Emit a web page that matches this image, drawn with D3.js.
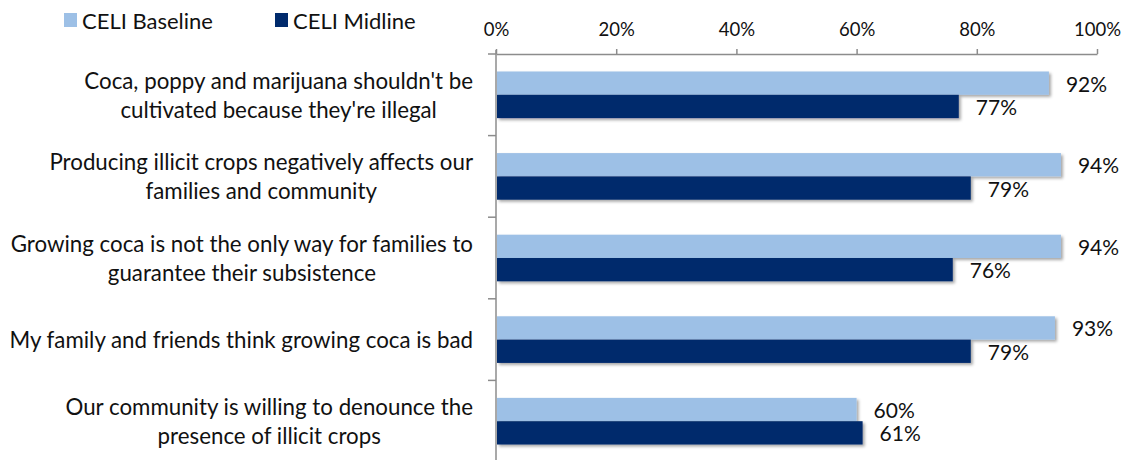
<!DOCTYPE html>
<html>
<head>
<meta charset="utf-8">
<script src="https://cdn.jsdelivr.net/npm/d3@7"></script>
<style>
  html, body { margin: 0; padding: 0; background: #fff; }
  svg { display: block; }
  text { font-family: Lato, "Open Sans", sans-serif; fill: #111; }
</style>
</head>
<body>
<svg id="chart" width="1124" height="460"></svg>
<script>
// Survey statements, each split into its display lines
const categories = [
  ["Coca, poppy and marijuana shouldn't be", "cultivated because they're illegal"],
  ["Producing illicit crops negatively affects our", "families and community"],
  ["Growing coca is not the only way for families to", "guarantee their subsistence"],
  ["My family and friends think growing coca is bad"],
  ["Our community is willing to denounce the", "presence of illicit crops"]
];
const seriesNames = ["CELI Baseline", "CELI Midline"];
const baseline = [0.92, 0.94, 0.94, 0.93, 0.60];
const midline  = [0.77, 0.79, 0.76, 0.79, 0.61];
const xTicks = [0, 0.2, 0.4, 0.6, 0.8, 1.0];
const colors = ["#9dc0e6", "#002a6c"];

const svg = d3.select("#chart");
const catKeys = categories.map(d => d.join(" "));
const rows = catKeys.map((k, i) => ({ key: k, lines: categories[i], values: [baseline[i], midline[i]] }));

const x = d3.scaleLinear().domain([0, 1]).range([496, 1097]);
const y0 = d3.scaleBand().domain(catKeys).range([54, 462]).padding(0);
const y1 = d3.scaleBand().domain(seriesNames).range([0, y0.bandwidth()]).paddingInner(0).paddingOuter(0.75);

// soft drop shadow under the bars
const defs = svg.append("defs");
const f = defs.append("filter").attr("id", "shadow").attr("x", "-5%").attr("y", "-30%").attr("width", "115%").attr("height", "180%");
f.append("feDropShadow").attr("dx", 2).attr("dy", 2).attr("stdDeviation", 1.6)
  .attr("flood-color", "#000").attr("flood-opacity", 0.35);

// bars
const groups = svg.append("g").selectAll("g").data(rows).join("g")
  .attr("transform", d => `translate(0,${y0(d.key)})`);

groups.selectAll("rect").data(d => d.values.map((v, j) => ({ v, s: seriesNames[j], j })))
  .join("rect")
  .attr("x", x(0) + 1)
  .attr("y", d => y1(d.s))
  .attr("width", d => x(d.v) - x(0) - 1)
  .attr("height", y1.bandwidth())
  .attr("fill", d => colors[d.j])
  .attr("filter", "url(#shadow)");

// value labels
groups.selectAll("text.val").data(d => d.values.map((v, j) => ({ v, s: seriesNames[j] })))
  .join("text").attr("class", "val")
  .attr("x", d => x(d.v) + 17)
  .attr("y", d => y1(d.s) + y1.bandwidth() / 2)
  .attr("dominant-baseline", "central")
  .attr("font-size", 21)
  .text(d => d3.format(".0%")(d.v));

// top axis
const xAxis = svg.append("g").attr("transform", "translate(0,54)")
  .call(d3.axisTop(x).tickValues(xTicks).tickFormat(d3.format(".0%")).tickSize(5).tickSizeOuter(0).tickPadding(13));
xAxis.select(".domain").attr("stroke", "#8c8c8c").attr("stroke-width", 1.5);
xAxis.selectAll(".tick line").attr("stroke", "#8c8c8c").attr("stroke-width", 1.5);
xAxis.selectAll(".tick text").attr("font-size", 18.5).attr("font-family", "Lato, sans-serif").attr("fill", "#111");

// vertical category axis with separators between statements
const axisG = svg.append("g");
axisG.append("line").attr("x1", x(0)).attr("x2", x(0)).attr("y1", 50).attr("y2", 462)
  .attr("stroke", "#8c8c8c").attr("stroke-width", 1.5);
const bounds = catKeys.map(k => y0(k)).concat([y0.range()[1]]);
axisG.selectAll("line.sep").data(bounds).join("line").attr("class", "sep")
  .attr("x1", x(0) - 8).attr("x2", x(0))
  .attr("y1", d => d).attr("y2", d => d)
  .attr("stroke", "#8c8c8c").attr("stroke-width", 1.5);

// category labels: block right-aligned, lines centred within the block
const lineH = 29;
const labels = svg.append("g").selectAll("g").data(rows).join("g");
labels.each(function(d) {
  const g = d3.select(this);
  const cy = y0(d.key) + y0.bandwidth() / 2;
  const n = d.lines.length;
  const texts = g.selectAll("text").data(d.lines).join("text")
    .attr("font-size", 22.3)
    .attr("text-anchor", "middle")
    .attr("dominant-baseline", "central")
    .attr("y", (t, i) => cy + (i - (n - 1) / 2) * lineH)
    .text(t => t);
  let maxW = 0;
  texts.each(function() { maxW = Math.max(maxW, this.getComputedTextLength()); });
  texts.attr("x", 473 - maxW / 2);
});

// legend
const legend = svg.append("g").selectAll("g").data(seriesNames).join("g")
  .attr("transform", (d, i) => `translate(${[64, 275][i]},0)`);
legend.append("rect").attr("x", 0).attr("y", 13).attr("width", 13).attr("height", 14)
  .attr("fill", (d, i) => colors[i]);
legend.append("text").attr("x", 18).attr("y", 20).attr("dominant-baseline", "central")
  .attr("font-size", 22).text(d => d);
</script>
</body>
</html>
